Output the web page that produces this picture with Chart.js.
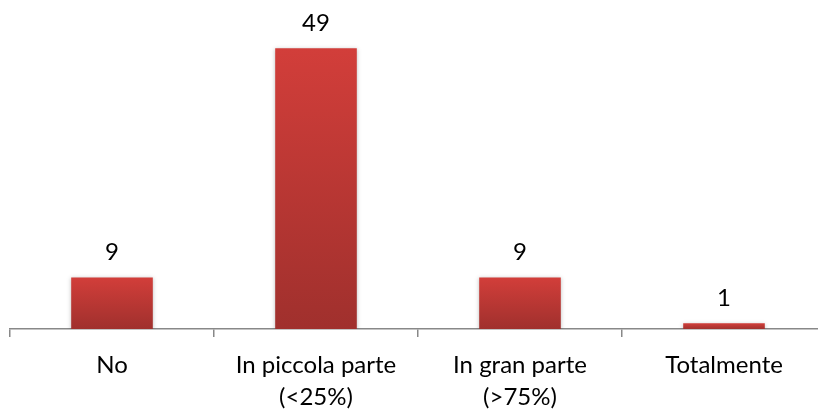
<!DOCTYPE html>
<html>
<head>
<meta charset="utf-8">
<script src="https://cdn.jsdelivr.net/npm/chart.js@4/dist/chart.umd.min.js"></script>
<style>
  html, body { margin: 0; padding: 0; background: #fff; overflow: hidden; }
  #wrap { width: 818px; height: 409px; overflow: hidden; }
</style>
</head>
<body>
<div id="wrap"><canvas id="chart" width="826" height="409"></canvas></div>
<script>
const categories = [ [`No`], [`In piccola parte`, `(<25%)`], [`In gran parte`, `(>75%)`], [`Totalmente`] ]
const values = [ 9, 49, 9, 1 ]

const FONT = `Lato, "Open Sans", sans-serif`

const barGradient = ctx => {
  const chart = ctx.chart
  if (!chart.chartArea || ctx.dataIndex === undefined) return `#c83a36`
  const y = chart.scales.y
  const top = y.getPixelForValue(values[ctx.dataIndex])
  const bottom = y.getPixelForValue(0)
  const g = chart.ctx.createLinearGradient(0, top, 0, bottom)
  g.addColorStop(0, `#d23e3a`)
  g.addColorStop(1, `#a0302d`)
  return g
}

const valueLabels = {
  id: `valueLabels`,
  afterDatasetsDraw(chart) {
    const ctx = chart.ctx
    const meta = chart.getDatasetMeta(0)
    ctx.save()
    ctx.font = `24px ${FONT}`
    ctx.fillStyle = `#000`
    ctx.textAlign = `center`
    ctx.textBaseline = `middle`
    meta.data.forEach((bar, i) => {
      ctx.fillText(values[i], bar.x, bar.y - 25)
    })
    ctx.restore()
  }
}

const shadow = {
  id: `shadow`,
  beforeDatasetDraw(chart) {
    const ctx = chart.ctx
    ctx.save()
    ctx.shadowColor = `rgba(0,0,0,0.25)`
    ctx.shadowBlur = 4
    ctx.shadowOffsetY = 1
  },
  afterDatasetDraw(chart) {
    chart.ctx.restore()
  }
}

new Chart(document.getElementById(`chart`).getContext(`2d`), {
  type: `bar`,
  data: {
    labels: categories,
    datasets: [{
      data: values,
      backgroundColor: barGradient,
      categoryPercentage: 0.4,
      barPercentage: 1
    }]
  },
  options: {
    responsive: false,
    animation: false,
    layout: { padding: { left: 10, right: 0, top: 0, bottom: 0 } },
    plugins: { legend: { display: false }, tooltip: { enabled: false } },
    scales: {
      x: {
        afterFit: scale => { scale.height = 80 },
        border: { color: `#888`, width: 1.5 },
        grid: { offset: true, drawOnChartArea: false, drawTicks: true, tickLength: 8, color: `#888`, lineWidth: 1.5 },
        ticks: { color: `#000`, padding: 12, maxRotation: 0, autoSkip: false, font: { family: FONT, size: 24, lineHeight: 1.35 } }
      },
      y: {
        display: false,
        min: 0,
        max: 57.4
      }
    }
  },
  plugins: [ shadow, valueLabels ]
})
</script>
</body>
</html>
